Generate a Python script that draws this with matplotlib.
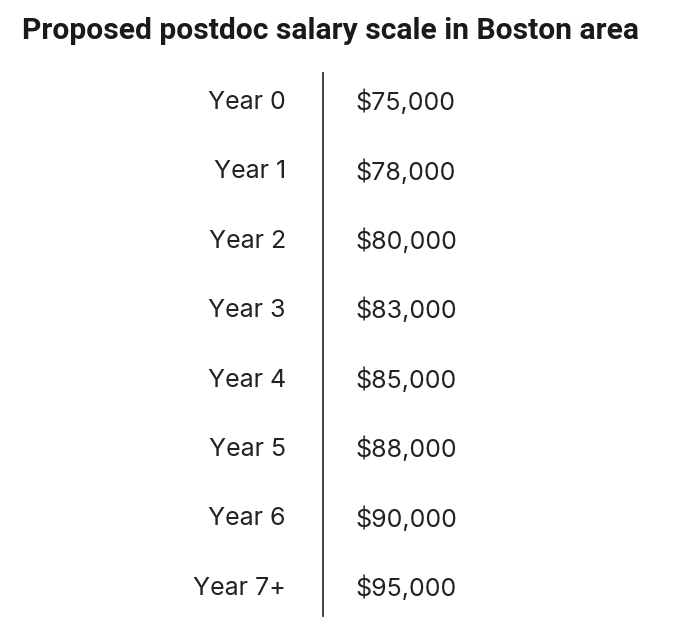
import matplotlib.pyplot as plt

years = ["Year 0", "Year 1", "Year 2", "Year 3", "Year 4", "Year 5", "Year 6", "Year 7+"]
salaries = [75000, 78000, 80000, 83000, 85000, 88000, 90000, 95000]
title = "Proposed postdoc salary scale in Boston area"

fig = plt.figure(figsize=(6.8, 6.38), dpi=100)
ax = fig.add_axes([0, 0, 1, 1])
ax.set_xlim(0, 680)
ax.set_ylim(638, 0)
ax.axis("off")

ink = "#222222"
ax.text(22, 31, title, fontsize=21.6, fontweight="bold", family="Roboto",
        color="#1a1a1a", va="center", ha="left")

# rows
row0, step = 100, 69.4
for i, (yr, sal) in enumerate(zip(years, salaries)):
    y = row0 + i * step
    ax.text(286, y, yr, fontsize=18, family="Inter", color=ink,
            ha="right", va="center_baseline")
    ax.text(355, y, "${:,}".format(sal), fontsize=18, family="Inter",
            color=ink, ha="left", va="center_baseline")

# divider
ax.plot([323, 323], [73, 616], color="#333333", lw=1.3)

fig.savefig("out.png", dpi=100)
